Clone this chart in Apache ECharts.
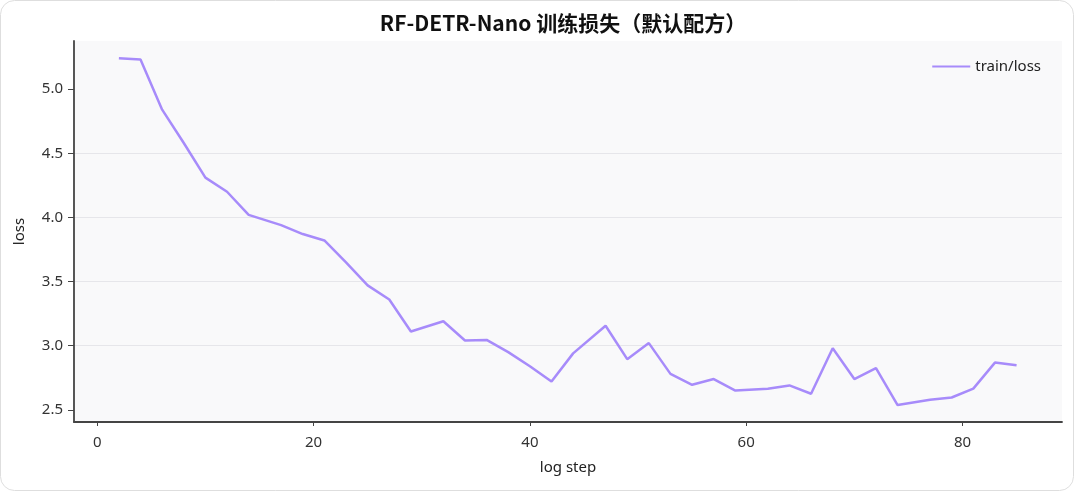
<!DOCTYPE html>
<html>
<head>
<meta charset="utf-8">
<script src="https://cdn.jsdelivr.net/npm/echarts@6/dist/echarts.min.js"></script>
<style>
  html, body { margin: 0; padding: 0; background: #fff; }
  #chart-container { width: 1080px; height: 494px; }
</style>
</head>
<body>
<div id="chart-container"></div>
<script>
// log step -> train/loss
const steps = [2, 4, 6, 8, 10, 12, 14, 17, 19, 21, 23, 25, 27, 29, 32, 34, 36, 38, 40, 42,
  44, 47, 49, 51, 53, 55, 57, 59, 62, 64, 66, 68, 70, 72, 74, 77, 79, 81, 83, 85];
const losses = [5.24, 5.23, 4.84, 4.58, 4.31, 4.20, 4.02, 3.94, 3.87, 3.82, 3.65, 3.47, 3.36, 3.11, 3.19, 3.04, 3.045, 2.95, 2.84, 2.72,
  2.94, 3.155, 2.895, 3.02, 2.78, 2.695, 2.74, 2.65, 2.665, 2.69, 2.625, 2.98, 2.74, 2.825, 2.537, 2.578, 2.596, 2.665, 2.868, 2.848];
const xTicks = [0, 20, 40, 60, 80];
const yTicks = [2.5, 3.0, 3.5, 4.0, 4.5, 5.0];

const font = '"Noto Sans", "Noto Sans CJK SC", sans-serif';

const initChart = () => {
  const dom = document.getElementById('chart-container');
  return echarts.init(dom, null, { renderer: 'canvas' });
};

const renderChart = (chart) => {
  const points = steps.map((s, i) => [s, losses[i]]);

  chart.setOption({
    animation: false,
    textStyle: { fontFamily: font },
    title: {
      text: 'RF-DETR-Nano 训练损失（默认配方）',
      left: 558,
      textAlign: 'center',
      top: 8,
      textStyle: {
        fontFamily: '"Noto Sans CJK SC", sans-serif',
        fontSize: 21,
        fontWeight: 'bold',
        color: '#111',
      },
    },
    graphic: [
      {
        type: 'rect',
        silent: true,
        z: -10,
        shape: { x: 0.5, y: 0.5, width: 1073, height: 490, r: 14 },
        style: { fill: 'none', stroke: '#dedede', lineWidth: 1 },
      },
    ],
    legend: {
      right: 34,
      top: 54,
      itemWidth: 38,
      itemHeight: 10,
      itemGap: 10,
      icon: 'path://M0,4 L38,4 L38,6 L0,6 Z',
      textStyle: { fontSize: 15, color: '#222', fontFamily: font },
      data: ['train/loss'],
    },
    grid: {
      left: 74,
      right: 18,
      top: 41,
      bottom: 72,
      show: true,
      backgroundColor: '#f9f9fa',
      borderWidth: 0,
    },
    xAxis: {
      type: 'value',
      min: -2.15,
      max: 89.2,
      name: 'log step',
      nameLocation: 'middle',
      nameGap: 38,
      nameTextStyle: { fontSize: 15, color: '#222', fontFamily: font },
      axisLine: { show: true, onZero: false, lineStyle: { color: '#444', width: 1.8 } },
      axisTick: { show: true, length: 4, customValues: xTicks, lineStyle: { color: '#444' } },
      axisLabel: { customValues: xTicks, fontSize: 15, color: '#333', margin: 13 },
      splitLine: { show: false },
    },
    yAxis: {
      type: 'value',
      min: 2.405,
      max: 5.375,
      name: 'loss',
      nameLocation: 'middle',
      nameGap: 47,
      nameTextStyle: { fontSize: 15, color: '#222', fontFamily: font },
      axisLine: { show: true, onZero: false, lineStyle: { color: '#444', width: 1.8 } },
      axisTick: { show: true, length: 6, customValues: yTicks, lineStyle: { color: '#444' } },
      axisLabel: {
        customValues: yTicks,
        fontSize: 15,
        color: '#333',
        margin: 11,
        formatter: (v) => v.toFixed(1),
      },
      splitLine: {
        show: true,
        showMinLine: false,
        showMaxLine: false,
        lineStyle: { color: '#e6e6ea', width: 1 },
      },
    },
    series: [
      {
        name: 'train/loss',
        type: 'line',
        data: points,
        showSymbol: false,
        symbol: 'none',
        lineStyle: { color: '#a78bfa', width: 2.5 },
        itemStyle: { color: '#a78bfa' },
      },
    ],
  });
};

const chart = initChart();
renderChart(chart);
</script>
</body>
</html>
